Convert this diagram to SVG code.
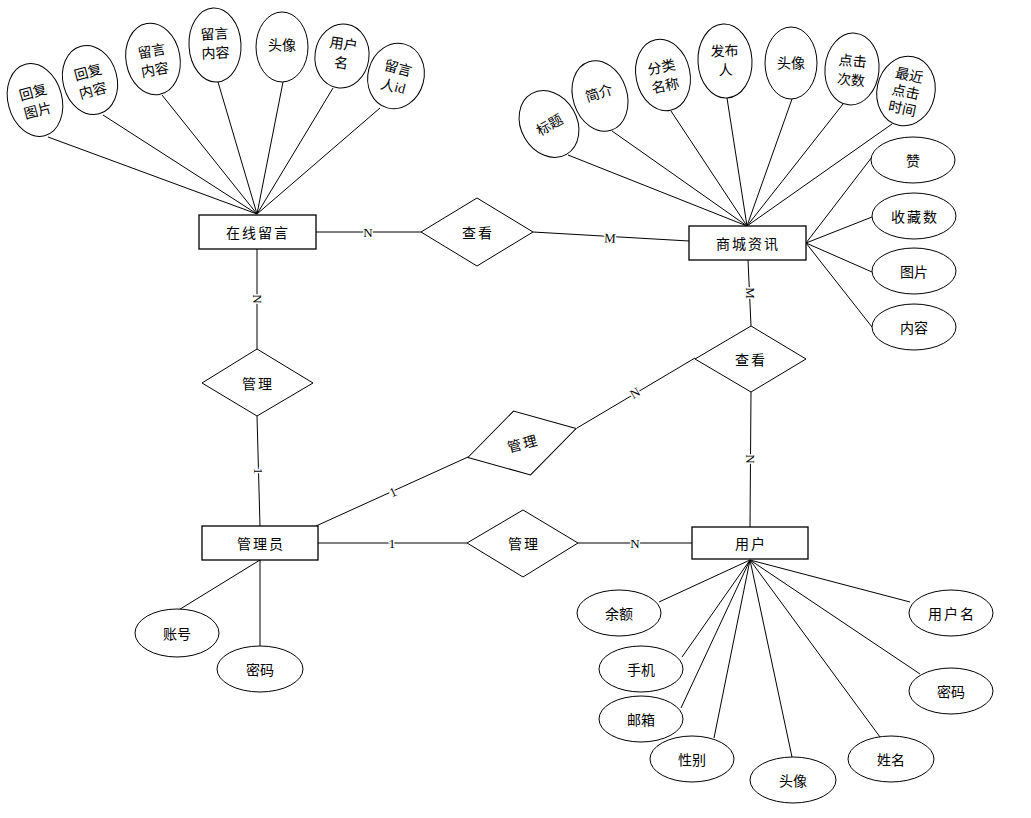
<svg xmlns="http://www.w3.org/2000/svg" width="1031" height="818" viewBox="0 0 1031 818">
<style>
.e{fill:#fff;stroke:#000;stroke-width:1}
.b{fill:#fff;stroke:#000;stroke-width:1.3}
.d{fill:#fff;stroke:#000;stroke-width:1}
.c line{stroke:#000;stroke-width:1}
.t{font-family:"Noto Sans CJK SC","Liberation Sans",sans-serif;font-size:14px;text-anchor:middle;dominant-baseline:central;fill:#000}
.bt{letter-spacing:2px}
.l{font-family:"Liberation Serif",serif;font-size:13px;text-anchor:middle;dominant-baseline:central;fill:#000;stroke:#fff;stroke-width:3px;paint-order:stroke}
</style>
<rect width="1031" height="818" fill="#fff"/>
<g class="c" id="connectors">
<line x1="48" y1="137" x2="257" y2="214"/>
<line x1="103" y1="115" x2="257" y2="214"/>
<line x1="162" y1="95" x2="257" y2="214"/>
<line x1="218" y1="82" x2="257" y2="214"/>
<line x1="283" y1="82" x2="257" y2="214"/>
<line x1="333" y1="88" x2="257" y2="214"/>
<line x1="380" y1="108" x2="257" y2="214"/>
<line x1="568" y1="155" x2="747" y2="226"/>
<line x1="612" y1="131" x2="747" y2="226"/>
<line x1="671" y1="111" x2="747" y2="226"/>
<line x1="727" y1="98" x2="747" y2="226"/>
<line x1="792" y1="99" x2="747" y2="226"/>
<line x1="843" y1="104" x2="747" y2="226"/>
<line x1="892" y1="124" x2="747" y2="226"/>
<line x1="806" y1="243" x2="872" y2="157"/>
<line x1="806" y1="243" x2="872" y2="217"/>
<line x1="806" y1="243" x2="872" y2="272"/>
<line x1="806" y1="243" x2="872" y2="327"/>
<line x1="316" y1="232" x2="421" y2="232"/>
<line x1="533" y1="232" x2="689" y2="241"/>
<line x1="257" y1="249" x2="257" y2="349"/>
<line x1="257" y1="416" x2="260" y2="526"/>
<line x1="748" y1="260" x2="751" y2="326"/>
<line x1="751" y1="392" x2="750" y2="527"/>
<line x1="695" y1="358" x2="577" y2="428"/>
<line x1="468" y1="457" x2="316" y2="526"/>
<line x1="318" y1="543" x2="467" y2="543"/>
<line x1="578" y1="543" x2="692" y2="543"/>
<line x1="260" y1="560" x2="177" y2="611"/>
<line x1="260" y1="560" x2="260" y2="646"/>
<line x1="750" y1="560" x2="659" y2="602"/>
<line x1="750" y1="560" x2="682" y2="657"/>
<line x1="750" y1="560" x2="681" y2="708"/>
<line x1="750" y1="560" x2="714" y2="738"/>
<line x1="750" y1="560" x2="792" y2="757"/>
<line x1="750" y1="560" x2="880" y2="737"/>
<line x1="750" y1="560" x2="920" y2="674"/>
<line x1="750" y1="560" x2="910" y2="602"/>
<text class="l" x="368" y="232">N</text>
<text class="l" x="610" y="238" transform="rotate(3 610 238)">M</text>
<text class="l" x="257" y="299" transform="rotate(90 257 299)">N</text>
<text class="l" x="258" y="471" transform="rotate(90 258 471)">1</text>
<text class="l" x="750" y="293" transform="rotate(90 750 293)">M</text>
<text class="l" x="750" y="459" transform="rotate(90 750 459)">N</text>
<text class="l" x="635" y="393" transform="rotate(-31 635 393)">N</text>
<text class="l" x="393" y="492" transform="rotate(-24 393 492)">1</text>
<text class="l" x="392" y="543">1</text>
<text class="l" x="635" y="543">N</text>
</g>
<g id="zxly"><rect class="b" x="199" y="215" width="117" height="34"/><text class="t bt" x="258" y="232">在线留言</text></g>
<g id="scxx"><rect class="b" x="689" y="226" width="117" height="34"/><text class="t bt" x="748" y="243">商城资讯</text></g>
<g id="gly"><rect class="b" x="202" y="526" width="116" height="34"/><text class="t bt" x="261" y="543">管理员</text></g>
<g id="yh"><rect class="b" x="692" y="527" width="116" height="32"/><text class="t bt" x="751" y="543">用户</text></g>
<g id="r-chakan1"><polygon class="d" points="421,232 477,198 533,232 477,266"/><text class="t bt" x="478" y="232">查看</text></g>
<g id="r-chakan2"><polygon class="d" points="695,359 751,326 806,359 751,392"/><text class="t bt" x="751" y="359">查看</text></g>
<g id="r-guanli1"><polygon class="d" points="202,383 257,349 313,383 257,416"/><text class="t bt" x="258" y="383">管理</text></g>
<g id="r-guanli2" transform="translate(522,443) rotate(-15)"><polygon class="d" points="-56,0 0,-33 56,0 0,33"/><text class="t bt" x="1" y="0">管理</text></g>
<g id="r-guanli3"><polygon class="d" points="467,543 523,510 578,543 523,577"/><text class="t bt" x="524" y="543">管理</text></g>
<g id="a-hfpic" transform="translate(35,100) rotate(-15)"><ellipse class="e" rx="27" ry="37"/><text class="t" y="-9">回复</text><text class="t" y="10">图片</text></g>
<g id="a-hfnr" transform="translate(90,80) rotate(-15)"><ellipse class="e" rx="27" ry="35"/><text class="t" y="-9">回复</text><text class="t" y="10">内容</text></g>
<g id="a-lynr1" transform="translate(153,59) rotate(-10)"><ellipse class="e" rx="27" ry="36"/><text class="t" y="-9">留言</text><text class="t" y="10">内容</text></g>
<g id="a-lynr2" transform="translate(215,45) rotate(-3)"><ellipse class="e" rx="26" ry="37"/><text class="t" y="-12">留言</text><text class="t" y="7">内容</text></g>
<g id="a-tx1" transform="translate(282,47)"><ellipse class="e" rx="26" ry="35"/><text class="t" y="-3">头像</text></g>
<g id="a-yhm1" transform="translate(342,56) rotate(8)"><ellipse class="e" rx="27" ry="32"/><text class="t" y="-13">用户</text><text class="t" y="6">名</text></g>
<g id="a-lyrid" transform="translate(396,76) rotate(15)"><ellipse class="e" rx="28" ry="33"/><text class="t" y="-9">留言</text><text class="t" y="10">人<tspan font-family="Liberation Serif,serif">id</tspan></text></g>
<g id="a-bt" transform="translate(549,124) rotate(-30)"><ellipse class="e" rx="28" ry="35"/><text class="t" y="0">标题</text></g>
<g id="a-jj" transform="translate(600,96) rotate(-18)"><ellipse class="e" rx="27" ry="36"/><text class="t" y="-4">简介</text></g>
<g id="a-flmc" transform="translate(663,75) rotate(-12)"><ellipse class="e" rx="27" ry="36"/><text class="t" y="-9">分类</text><text class="t" y="10">名称</text></g>
<g id="a-fbr" transform="translate(725,61) rotate(-3)"><ellipse class="e" rx="27" ry="37"/><text class="t" y="-11">发布</text><text class="t" y="8">人</text></g>
<g id="a-tx2" transform="translate(791,63)"><ellipse class="e" rx="26" ry="36"/><text class="t" y="-1">头像</text></g>
<g id="a-djcs" transform="translate(852,69) rotate(5)"><ellipse class="e" rx="27" ry="36"/><text class="t" y="-9">点击</text><text class="t" y="10">次数</text></g>
<g id="a-zjdjsj" transform="translate(906,91) rotate(12)"><ellipse class="e" rx="29" ry="35"/><text class="t" y="-17">最近</text><text class="t" y="0">点击</text><text class="t" y="17">时间</text></g>
<g id="a-zan"><ellipse class="e" cx="913" cy="160" rx="42" ry="23"/><text class="t" x="913" y="160">赞</text></g>
<g id="a-scs"><ellipse class="e" cx="914" cy="216" rx="42" ry="23"/><text class="t bt" x="915" y="216">收藏数</text></g>
<g id="a-tp"><ellipse class="e" cx="914" cy="271" rx="42" ry="23"/><text class="t" x="914" y="271">图片</text></g>
<g id="a-nr"><ellipse class="e" cx="914" cy="327" rx="42" ry="23"/><text class="t" x="914" y="327">内容</text></g>
<g id="a-zh"><ellipse class="e" cx="177" cy="633" rx="42" ry="24"/><text class="t" x="177" y="633">账号</text></g>
<g id="a-mm1"><ellipse class="e" cx="260" cy="669" rx="43" ry="23"/><text class="t" x="260" y="669">密码</text></g>
<g id="a-ye"><ellipse class="e" cx="619" cy="613" rx="42" ry="23"/><text class="t" x="619" y="613">余额</text></g>
<g id="a-sj"><ellipse class="e" cx="641" cy="669" rx="42" ry="23"/><text class="t" x="641" y="669">手机</text></g>
<g id="a-yx"><ellipse class="e" cx="641" cy="719" rx="42" ry="23"/><text class="t" x="641" y="719">邮箱</text></g>
<g id="a-xb"><ellipse class="e" cx="692" cy="759" rx="42" ry="23"/><text class="t" x="692" y="759">性别</text></g>
<g id="a-tx3"><ellipse class="e" cx="793" cy="780" rx="43" ry="23"/><text class="t" x="793" y="780">头像</text></g>
<g id="a-xm"><ellipse class="e" cx="891" cy="759" rx="43" ry="23"/><text class="t" x="891" y="759">姓名</text></g>
<g id="a-mm2"><ellipse class="e" cx="951" cy="691" rx="42" ry="23"/><text class="t" x="951" y="691">密码</text></g>
<g id="a-yhm2"><ellipse class="e" cx="951" cy="613" rx="42" ry="23"/><text class="t bt" x="952" y="613">用户名</text></g>
</svg>
